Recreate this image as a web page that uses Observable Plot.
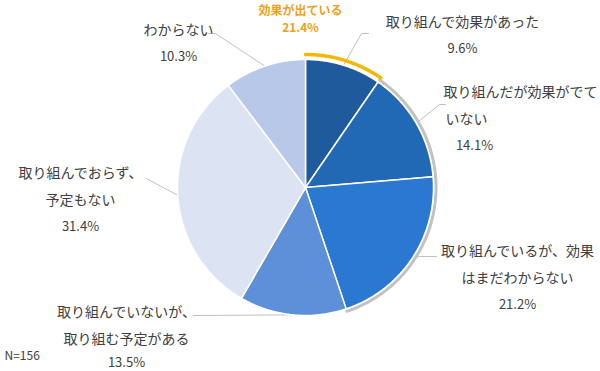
<!DOCTYPE html>
<html><head><meta charset="utf-8">
<script src="https://cdn.jsdelivr.net/npm/d3@7"></script>
<script src="https://cdn.jsdelivr.net/npm/@observablehq/plot@0.6"></script>
<style>body{margin:0;background:#fff;}</style>
</head><body><div id="chart"></div>
<script>
// ---- data ----
const categories = ["取り組んで効果があった","取り組んだが効果がでていない","取り組んでいるが、効果はまだわからない","取り組んでいないが、取り組む予定がある","取り組んでおらず、予定もない","わからない"];
const labelLines = [["取り組んで効果があった"],["取り組んだが効果がでて","いない"],["取り組んでいるが、効果","はまだわからない"],["取り組んでいないが、","取り組む予定がある"],["取り組んでおらず、","予定もない"],["わからない"]];
const values = [9.6, 14.1, 21.2, 13.5, 31.4, 10.3];
const highlightLabel = "効果が出ている";
const highlightValue = 21.4;
const sampleNote = "N=156";

// ---- styles / layout ----
const colors = ["#1f5a9c","#2168b5","#2a78cf","#5e8fd9","#dce3f3","#b8c8e9"];
const W = 600, H = 371, cx = 305, cy = 187, R = 128;
const labelLayout = [
  {x:462, y:22, pctGap:26, bend:[[361,33],[368,33]]},
  {x:520, y:92, pctGap:26, lineX:[520,466,474], bend:[[439,104],[445,104]]},
  {x:517, y:251, pctGap:26, bend:[[420,256],[436,256]]},
  {x:126, y:312, pctGap:23, bend:[[193,315]]},
  {x:80, y:173, pctGap:26, bend:[[146,178]]},
  {x:178, y:30, pctGap:26, bend:[[215,33],[208,33]]}
];
const font = "'Noto Sans CJK JP','Noto Sans',sans-serif";

const pie = d3.pie().sort(null).value(d => d)(values);
const pt = (a, r) => ({x: cx + r * Math.sin(a), y: cy - r * Math.cos(a)});

function arcPts(a0, a1, r, key) {
  const n = Math.max(2, Math.ceil((a1 - a0) / 0.01));
  return d3.range(n + 1).map(k => ({...pt(a0 + (a1 - a0) * k / n, r), key}));
}

// slices
const sliceData = pie.flatMap((p, i) => {
  const c = {x: cx, y: cy, key: categories[i]};
  return [c, ...arcPts(p.startAngle, p.endAngle, R, categories[i]), c];
});

// highlight arcs
const yellowArc = arcPts(pie[0].startAngle, pie[0].endAngle, R + 5, "y");
const grayArc = arcPts(pie[1].startAngle, pie[2].endAngle, R + 2.5, "g");

// leaders
const leaderData = pie.flatMap((p, i) => {
  const m = (p.startAngle + p.endAngle) / 2;
  const s = pt(m, R);
  return [{...s, key: i}, ...labelLayout[i].bend.map(([x, y]) => ({x, y, key: i}))];
});

// labels
const textRows = [];
pie.forEach((p, i) => {
  const L = labelLayout[i];
  const n = labelLines[i].length;
  const lines = [...labelLines[i], `${values[i]}%`];
  lines.forEach((t, k) => {
    const y = k < n ? L.y + 27 * k : L.y + 27 * (n - 1) + L.pctGap;
    textRows.push({text: t, x: L.lineX ? L.lineX[k] : L.x, y, pct: k === n});
  });
});

const chart = Plot.plot({
  width: W, height: H, margin: 0,
  style: {background: "#fff", fontFamily: font},
  x: {domain: [0, W], range: [0, W], axis: null},
  y: {domain: [0, H], range: [0, H], axis: null},
  color: {domain: categories, range: colors},
  marks: [
    Plot.line(leaderData, {x: "x", y: "y", z: "key", stroke: "#bfbfbf", strokeWidth: 1}),
    Plot.line(grayArc, {x: "x", y: "y", stroke: "#c2c2c2", strokeWidth: 3}),
    Plot.line(sliceData, {x: "x", y: "y", z: "key", fill: "key", stroke: "#fff", strokeWidth: 1.5, strokeLinejoin: "round"}),
    Plot.line(yellowArc, {x: "x", y: "y", stroke: "#f5b800", strokeWidth: 3.5}),
    Plot.text(textRows.filter(d => !d.pct), {x: "x", y: "y", text: "text", fontSize: 14, fill: "#404040"}),
    Plot.text(textRows.filter(d => d.pct), {x: "x", y: "y", text: "text", fontSize: 13, fill: "#404040"}),
    Plot.text([highlightLabel, `${highlightValue}%`], {x: [300, 300], y: [11, 28], text: d => d, fontSize: 12, fontWeight: "bold", fill: "#efa020"}),
    Plot.text([sampleNote], {x: [4], y: [356], text: d => d, textAnchor: "start", fontSize: 12, fill: "#404040"})
  ]
});
document.getElementById("chart").appendChild(chart);
</script>
</body></html>
